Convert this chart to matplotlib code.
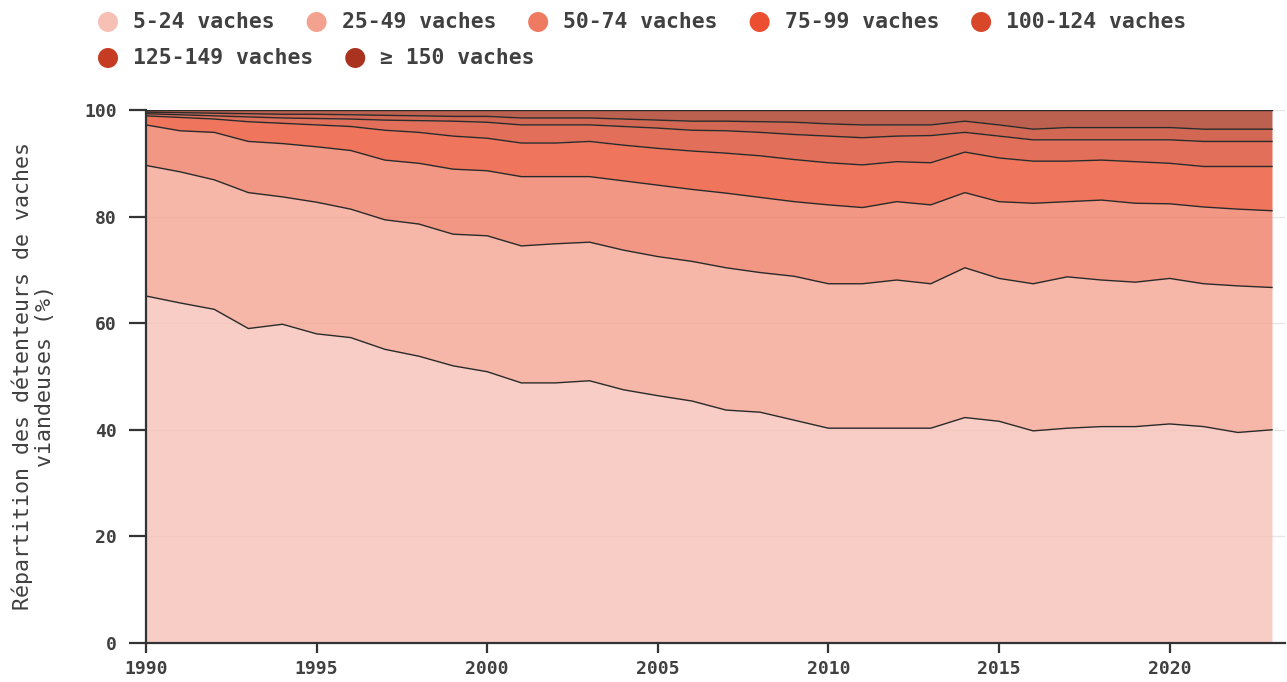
import matplotlib
matplotlib.use("Agg")
import matplotlib.pyplot as plt
import numpy as np
from matplotlib.patches import Circle

years = list(range(1990, 2024))

categories = ["5-24 vaches", "25-49 vaches", "50-74 vaches", "75-99 vaches",
              "100-124 vaches", "125-149 vaches", "\u2265 150 vaches"]

v_5_24 = [65.1, 63.8, 62.6, 59.0, 59.8, 58.0, 57.3, 55.1, 53.8, 52.0, 50.9, 48.8, 48.8, 49.2,
          47.5, 46.4, 45.4, 43.7, 43.3, 41.8, 40.3, 40.3, 40.3, 40.3, 42.3, 41.6, 39.8, 40.3,
          40.6, 40.6, 41.1, 40.6, 39.5, 40.0]
v_25_49 = [24.5, 24.6, 24.3, 25.5, 23.9, 24.7, 24.1, 24.3, 24.8, 24.7, 25.5, 25.7, 26.1, 26.0,
           26.2, 26.1, 26.2, 26.7, 26.2, 27.0, 27.1, 27.1, 27.8, 27.1, 28.1, 26.8, 27.6, 28.4,
           27.5, 27.1, 27.3, 26.8, 27.5, 26.7]
v_50_74 = [7.6, 7.7, 8.9, 9.6, 10.0, 10.4, 11.0, 11.2, 11.4, 12.2, 12.2, 13.0, 12.6, 12.3,
           13.0, 13.4, 13.5, 14.0, 14.1, 14.0, 14.8, 14.3, 14.7, 14.8, 14.1, 14.4, 15.1, 14.1,
           15.0, 14.8, 14.0, 14.4, 14.4, 14.4]
v_75_99 = [1.7, 2.5, 2.5, 3.7, 3.8, 4.1, 4.5, 5.6, 5.8, 6.2, 6.1, 6.3, 6.3, 6.6,
           6.7, 6.9, 7.2, 7.5, 7.8, 7.9, 7.9, 8.0, 7.5, 7.9, 7.6, 8.2, 7.9, 7.6,
           7.5, 7.8, 7.6, 7.6, 8.0, 8.3]
v_100_124 = [0.4, 0.5, 0.6, 0.9, 1.0, 1.2, 1.4, 1.9, 2.2, 2.8, 3.0, 3.4, 3.4, 3.1,
             3.5, 3.8, 3.9, 4.2, 4.4, 4.7, 5.0, 5.1, 4.8, 5.1, 3.7, 4.1, 4.0, 4.0,
             3.8, 4.1, 4.4, 4.7, 4.7, 4.7]
v_125_149 = [0.3, 0.4, 0.5, 0.6, 0.7, 0.8, 0.8, 0.9, 0.9, 0.9, 1.1, 1.3, 1.3, 1.3,
             1.4, 1.5, 1.7, 1.8, 2.0, 2.3, 2.3, 2.4, 2.1, 2.0, 2.1, 2.1, 2.0, 2.3,
             2.3, 2.3, 2.3, 2.3, 2.3, 2.3]
v_150_plus = [0.4, 0.5, 0.6, 0.7, 0.8, 0.8, 0.9, 1.0, 1.1, 1.2, 1.2, 1.5, 1.5, 1.5,
              1.7, 1.9, 2.1, 2.1, 2.2, 2.3, 2.6, 2.8, 2.8, 2.8, 2.1, 2.8, 3.6, 3.3,
              3.3, 3.3, 3.3, 3.6, 3.6, 3.6]

series = [v_5_24, v_25_49, v_50_74, v_75_99, v_100_124, v_125_149, v_150_plus]
colors = ["#f7c0b5", "#f4a290", "#ef7a62", "#eb4e30", "#d9472a", "#c63c22", "#aa331f"]

y_ticks = [0, 20, 40, 60, 80, 100]
x_ticks = [1990, 1995, 2000, 2005, 2010, 2015, 2020]
ylabel = "R\u00e9partition des d\u00e9tenteurs de vaches\nviandeuses (%)"

W, H = 1287, 682
fig = plt.figure(figsize=(W / 100, H / 100), dpi=100)
left, right, top, bottom = 146, 1285, 110, 643
ax = fig.add_axes([left / W, 1 - bottom / H, (right - left) / W, (bottom - top) / H])

mono = "DejaVu Sans Mono"
txt_col = "#404040"

x = np.array(years, dtype=float)
base = np.zeros(len(years))
for vals, col in zip(series, colors):
    topv = base + np.array(vals)
    ax.fill_between(x, base, topv, color=col, alpha=0.78, linewidth=0, zorder=2)
    base = topv
base = np.zeros(len(years))
for vals in series:
    base = base + np.array(vals)
    ax.plot(x, base, color="#2a2a2a", lw=1.0, zorder=3, solid_joinstyle="round")

ax.set_xlim(1990, 1990 + (right - left) / ((1272 - left) / 33))
ax.set_ylim(0, 100)
ax.set_yticks(y_ticks)
ax.set_xticks(x_ticks)
ax.grid(axis="y", color="#e6e6e6", lw=1.0, zorder=0)
ax.set_axisbelow(True)
for s in ["top", "right"]:
    ax.spines[s].set_visible(False)
for s in ["left", "bottom"]:
    ax.spines[s].set_color("#333333")
    ax.spines[s].set_linewidth(1.6)
    ax.spines[s].set_zorder(4)
ax.tick_params(axis="y", length=12, width=1.6, color="#333333", pad=9,
               labelsize=13, labelcolor=txt_col)
ax.tick_params(axis="x", length=7, width=1.6, color="#333333", pad=5,
               labelsize=13, labelcolor=txt_col)
for lab in ax.get_xticklabels() + ax.get_yticklabels():
    lab.set_fontfamily(mono)
    lab.set_fontweight("bold")

fig.text(33 / W, 1 - 376 / H, ylabel, rotation=90, ha="center", va="center",
         multialignment="center", fontsize=15.6, family=mono, color=txt_col,
         linespacing=1.12)

# flow legend
renderer = fig.canvas.get_renderer()
rows = [categories[:5], categories[5:]]
row_y = [22, 58]
k = 0
for r, items in enumerate(rows):
    xpos = 108
    for name in items:
        col = colors[k]
        k += 1
        circ = Circle((xpos / 100, (H - row_y[r]) / 100), 10 / 100,
                      transform=fig.dpi_scale_trans, facecolor=col, edgecolor="none")
        fig.patches.append(circ)
        t = fig.text((xpos + 25) / W, 1 - row_y[r] / H, name, ha="left", va="center",
                     fontsize=15.4, family=mono, fontweight="bold", color=txt_col)
        bb = t.get_window_extent(renderer=renderer)
        xpos = bb.x1 + 42

fig.savefig("out.png", dpi=100)
